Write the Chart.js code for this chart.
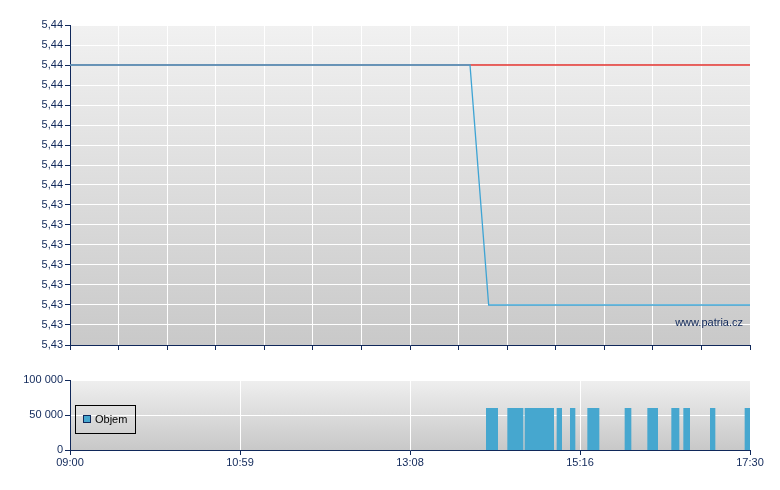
<!DOCTYPE html>
<html>
<head>
<meta charset="utf-8">
<script src="https://cdn.jsdelivr.net/npm/chart.js@4.4.1/dist/chart.umd.min.js"></script>
<style>
body{margin:0;background:#fff;}
#wrap{position:relative;width:780px;height:490px;}
#price{position:absolute;left:0;top:0;}
#vol{position:absolute;left:0;top:360px;}
</style>
</head>
<body>
<div id="wrap">
<canvas id="price" width="780" height="360"></canvas>
<canvas id="vol" width="780" height="130"></canvas>
</div>
<script>
// trades (price line)
let priceTimes = ['09:00', '14:00', '14:14', '17:30']
let prices = [5.44, 5.44, 5.43, 5.43]
// previous close
let refTimes = ['09:00', '17:30']
let refPrices = [5.44, 5.44]
// y tick labels, bottom to top
let yTickLabels = ['5,43','5,43','5,43','5,43','5,43','5,43','5,43','5,43',
                   '5,44','5,44','5,44','5,44','5,44','5,44','5,44','5,44','5,44']

// volume blocks
let volStart = ['14:12','14:28','14:41','15:05','15:15','15:28','15:56','16:13','16:31','16:40','17:00','17:26']
let volEnd   = ['14:21','14:40','15:03','15:09','15:19','15:37','16:01','16:21','16:37','16:45','17:04','17:30']
let volumes  = [60000,60000,60000,60000,60000,60000,60000,60000,60000,60000,60000,60000]
let volTickLabels = ['0', '50 000', '100 000']
let timeTickLabels = ['09:00', '10:59', '13:08', '15:16', '17:30']

const navy = '#10285a'
const toMin = s => { let p = s.split(':'); return p[0] * 60 + +p[1] }
const tStart = toMin('09:00'), tEnd = toMin('17:30')

Chart.defaults.font.family = '"Liberation Sans", Arial, sans-serif'
Chart.defaults.font.size = 11
Chart.defaults.color = navy

const evenTicks = n => scale => {
    let t = []
    for (let i = 0; i <= n; i++) t.push({ value: scale.min + (scale.max - scale.min) * i / n })
    scale.ticks = t
}

const plotBg = {
    id: 'plotBg',
    beforeDraw(chart, args, opts) {
        const { ctx, chartArea: a } = chart
        let g = ctx.createLinearGradient(0, a.top, 0, a.bottom)
        g.addColorStop(0, opts.top)
        g.addColorStop(1, opts.bottom)
        ctx.save()
        ctx.fillStyle = g
        ctx.fillRect(a.left, a.top, a.right - a.left, a.bottom - a.top)
        ctx.restore()
    }
}

const watermark = {
    id: 'watermark',
    afterDraw(chart) {
        const { ctx, chartArea: a } = chart
        ctx.save()
        ctx.fillStyle = navy
        ctx.font = '11px "Liberation Sans", Arial'
        ctx.textAlign = 'right'
        ctx.textBaseline = 'middle'
        ctx.fillText('www.patria.cz', a.right - 7, a.bottom - 22)
        ctx.restore()
    }
}

const boxLegend = {
    id: 'boxLegend',
    afterDraw(chart) {
        const { ctx, chartArea: a } = chart
        const ds = chart.data.datasets[0]
        const x = a.left + 5, y = a.top + 25
        ctx.save()
        ctx.strokeStyle = '#000'
        ctx.lineWidth = 1
        ctx.strokeRect(x + .5, y + .5, 60, 28)
        ctx.fillStyle = ds.backgroundColor
        ctx.fillRect(x + 8, y + 10, 8, 8)
        ctx.strokeStyle = navy
        ctx.strokeRect(x + 8.5, y + 10.5, 7, 7)
        ctx.fillStyle = '#000'
        ctx.font = '11px "Liberation Sans", Arial'
        ctx.textBaseline = 'middle'
        ctx.fillText(ds.label, x + 20, y + 15)
        ctx.restore()
    }
}

const gridOpts = { color: '#ffffff', lineWidth: 1, tickColor: navy, tickLength: 5 }
const borderOpts = { display: true, color: navy, width: 1 }

// price chart
new Chart(document.getElementById('price'), {
    type: 'line',
    data: {
        datasets: [{
            label: 'Cena',
            data: priceTimes.map((t, i) => ({ x: toMin(t), y: prices[i] })),
            borderColor: '#3ea4d4',
            borderWidth: 1.3,
            pointRadius: 0,
            tension: 0,
            order: 1
        }, {
            label: 'Předchozí',
            data: refTimes.map((t, i) => ({ x: toMin(t), y: refPrices[i] })),
            borderColor: '#e2302c',
            borderWidth: 1.3,
            pointRadius: 0,
            order: 2
        }]
    },
    options: {
        responsive: false,
        animation: false,
        devicePixelRatio: 1,
        layout: { padding: { left: 0, top: 25, right: 30, bottom: 0 } },
        plugins: { legend: { display: false }, tooltip: { enabled: false }, plotBg: { top: '#f1f1f1', bottom: '#c9c9c9' } },
        scales: {
            x: {
                type: 'linear', min: tStart, max: tEnd,
                afterBuildTicks: evenTicks(14),
                afterFit: s => { s.height = 15 },
                ticks: { callback: () => '', autoSkip: false },
                grid: gridOpts, border: borderOpts
            },
            y: {
                min: 5.428333, max: 5.441667,
                afterBuildTicks: evenTicks(16),
                afterFit: s => { s.width = 70 },
                ticks: { callback: (v, i) => yTickLabels[i], autoSkip: false, padding: 2 },
                grid: gridOpts, border: borderOpts
            }
        }
    },
    plugins: [plotBg, watermark]
})

// volume chart
let volPoints = [{ x: tStart, y: 0 }]
for (let i = 0; i < volStart.length; i++) {
    volPoints.push({ x: toMin(volStart[i]), y: volumes[i] })
    volPoints.push({ x: toMin(volEnd[i]), y: 0 })
}

new Chart(document.getElementById('vol'), {
    type: 'line',
    data: {
        datasets: [{
            label: 'Objem',
            data: volPoints,
            stepped: true,
            fill: 'origin',
            backgroundColor: '#46a7cf',
            borderColor: 'rgba(0,0,0,0)',
            borderWidth: 0,
            pointRadius: 0
        }]
    },
    options: {
        responsive: false,
        animation: false,
        devicePixelRatio: 1,
        layout: { padding: { left: 0, top: 20, right: 30, bottom: 0 } },
        plugins: { legend: { display: false }, tooltip: { enabled: false }, plotBg: { top: '#efefef', bottom: '#c8c8c8' } },
        scales: {
            x: {
                type: 'linear', min: tStart, max: tEnd,
                afterBuildTicks: evenTicks(4),
                afterFit: s => { s.height = 40 },
                ticks: { callback: (v, i) => timeTickLabels[i], autoSkip: false, maxRotation: 0, padding: 1 },
                grid: gridOpts, border: borderOpts
            },
            y: {
                min: 0, max: 100000,
                afterBuildTicks: evenTicks(2),
                afterFit: s => { s.width = 70 },
                ticks: { callback: (v, i) => volTickLabels[i], autoSkip: false, padding: 2 },
                grid: gridOpts, border: borderOpts
            }
        }
    },
    plugins: [plotBg, boxLegend]
})
</script>
</body>
</html>
